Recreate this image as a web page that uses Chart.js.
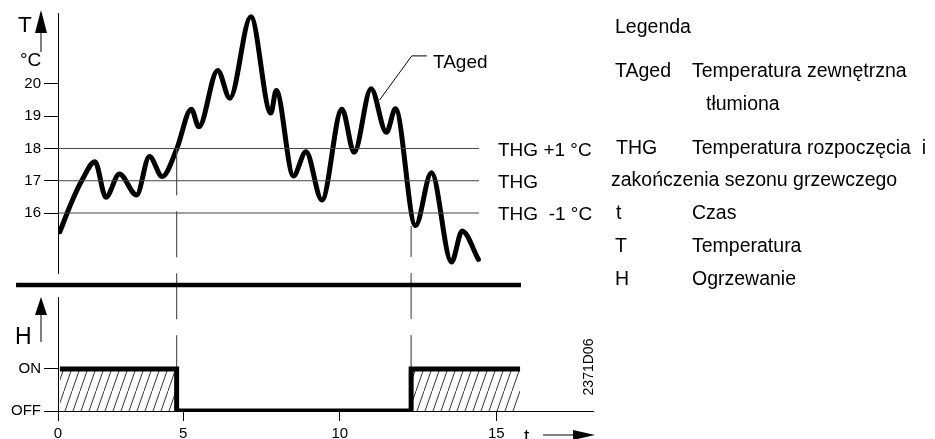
<!DOCTYPE html>
<html>
<head>
<meta charset="utf-8">
<script src="https://cdn.jsdelivr.net/npm/chart.js@4.4.1/dist/chart.umd.min.js"></script>
<style>
  html, body { margin: 0; padding: 0; background: #fff; }
  #wrap { position: relative; width: 935px; height: 439px; overflow: hidden; background: #fff;
          font-family: "Liberation Sans", Arial, sans-serif; color: #000; }
  #wrap canvas { position: absolute; left: 0; top: 0; }
  .lbl { position: absolute; line-height: 1; white-space: pre; transform: translateY(-50%); }
</style>
</head>
<body>
<div id="wrap">
  <canvas id="chart-temp" width="935" height="439"></canvas>
  <canvas id="chart-heat" width="935" height="439"></canvas>
</div>
<script>
// --- data (t on the drawing's time scale) ---
const T_TIME = [1.06, 1.44, 1.77, 2.18, 2.53, 2.96, 3.51, 3.92, 4.33, 4.79, 5.26, 5.50, 6.10, 6.49, 7.16,
                7.80, 7.97, 8.52, 8.92, 9.43, 10.07, 10.46, 11.00, 11.49, 11.78, 12.42, 12.93, 13.57, 13.91, 14.43];
const T_AGED = [15.42, 16.35, 17.02, 17.59, 16.49, 17.21, 16.56, 17.75, 17.13, 17.98, 19.22, 18.67, 20.42, 19.56, 22.08,
                19.10, 19.80, 17.15, 17.90, 16.40, 19.22, 17.88, 19.85, 18.50, 19.23, 15.61, 17.25, 14.48, 15.44, 14.56];

const THG_LEVELS = [18, 17, 16];
const THG_END = 14.45;

const SWITCH_T = [4.79, 12.28];
const SWITCH_TOP = [17.98, 15.6];
const SWITCH_BOTTOM = 11.16;

const H_TIME = [1.06, 4.79, 12.28, 15.76];
const H_STATE = [1, 0, 1, 1];

const LEADER_T = [11.27, 12.30, 12.78];
const LEADER_Y = [19.5, 20.87, 20.87];

const SEP_T = [-0.34, 15.79];
const SEP_Y = 13.77;

const Y_TICKS = [16, 17, 18, 19, 20];
const X_TICKS = [1, 5, 10, 15];
const X_TICK_LABELS = ['0', '5', '10', '15'];
const H_TICKS = [0, 1];
const H_TICK_LABELS = ['OFF', 'ON'];

const X_MIN = 1, X_MAX = 18.09;
const T_MIN = 14.14, T_MAX = 22.2;
const H_MAX = 2.71;

const FONT = '"Liberation Sans", Arial, sans-serif';
Chart.defaults.font.family = FONT;
Chart.defaults.color = '#000';

function pts(xs, ys) { return xs.map((x, i) => ({ x, y: ys[i] })); }

function hatchPattern() {
  const c = document.createElement('canvas');
  c.width = 8; c.height = 23;
  const g = c.getContext('2d');
  g.strokeStyle = '#333';
  g.lineWidth = 1;
  g.beginPath();
  g.moveTo(-1, 23 + 2.875);
  g.lineTo(9, -2.875);
  g.stroke();
  return g.createPattern(c, 'repeat');
}

function arrowUp(ctx, x, tip, base, tail) {
  ctx.beginPath();
  ctx.moveTo(x, tail); ctx.lineTo(x, base); ctx.stroke();
  ctx.beginPath();
  ctx.moveTo(x, tip); ctx.lineTo(x - 6, base); ctx.lineTo(x + 6, base); ctx.closePath(); ctx.fill();
}

const arrows = {
  id: 'arrows',
  afterDraw(chart) {
    const { ctx, chartArea: a } = chart;
    ctx.save();
    ctx.strokeStyle = '#000'; ctx.fillStyle = '#000'; ctx.lineWidth = 1;
    if (chart.canvas.id === 'chart-temp') {
      arrowUp(ctx, a.left - 17, a.top - 3, a.top + 20, a.top + 39);
    } else {
      arrowUp(ctx, a.left - 17, a.top, a.top + 18, a.top + 45);
      const y = a.bottom + 24;
      ctx.beginPath(); ctx.moveTo(a.right - 50, y); ctx.lineTo(a.right - 18, y); ctx.stroke();
      ctx.beginPath();
      ctx.moveTo(a.right + 2, y); ctx.lineTo(a.right - 20, y - 5); ctx.lineTo(a.right - 20, y + 5);
      ctx.closePath(); ctx.fill();
    }
    ctx.restore();
  }
};

const line = (data, extra) => Object.assign({
  data, borderColor: '#000', borderWidth: 1, pointRadius: 0, tension: 0, fill: false
}, extra);

const yAxisBase = (min, max, ticks, labels) => ({
  min, max,
  afterFit: s => { s.width = 58; },
  afterBuildTicks: s => { s.ticks = ticks.map(v => ({ value: v })); },
  ticks: { font: { size: 15 }, color: '#000', padding: 3,
           callback: (v, i) => labels ? labels[i] : String(v) },
  grid: { drawOnChartArea: false, drawTicks: true, tickLength: 14, color: '#000', lineWidth: 1 },
  border: { display: true, color: '#000', width: 1 }
});

const baseOpts = {
  responsive: false, animation: false, events: [],
  plugins: { legend: { display: false }, tooltip: { enabled: false } }
};

function initTempChart() {
  const datasets = [
    line(pts(T_TIME, T_AGED), { borderWidth: 5, cubicInterpolationMode: 'monotone', borderCapStyle: 'round' }),
    line(pts(SEP_T, [SEP_Y, SEP_Y]), { borderWidth: 4.5, clip: false }),
    line(pts(LEADER_T, LEADER_Y), { borderWidth: 1 })
  ];
  THG_LEVELS.forEach(v => datasets.push(line(pts([X_MIN, THG_END], [v, v]), { borderColor: '#444' })));
  SWITCH_T.forEach((t, i) => datasets.push(line(pts([t, t], [SWITCH_TOP[i], SWITCH_BOTTOM]), {
    borderColor: '#555', borderWidth: 1.2, borderDash: [46, 16], borderDashOffset: i ? 15 : 0, clip: false
  })));
  // curve on top
  datasets.push(datasets.shift());

  new Chart(document.getElementById('chart-temp'), {
    type: 'line',
    data: { datasets },
    options: Object.assign({}, baseOpts, {
      layout: { padding: { left: 0, top: 13, right: 342, bottom: 166 } },
      scales: {
        x: { type: 'linear', min: X_MIN, max: X_MAX, display: false },
        y: yAxisBase(T_MIN, T_MAX, Y_TICKS, null)
      }
    }),
    plugins: [arrows]
  });
}

function initHeatChart() {
  new Chart(document.getElementById('chart-heat'), {
    type: 'line',
    data: {
      datasets: [line(pts(H_TIME, H_STATE), {
        borderWidth: 5, stepped: 'before', fill: 'origin', backgroundColor: hatchPattern(),
        borderJoinStyle: 'miter', borderCapStyle: 'butt'
      })]
    },
    options: Object.assign({}, baseOpts, {
      layout: { padding: { left: 0, top: 297, right: 342, bottom: 0 } },
      scales: {
        x: {
          type: 'linear', min: X_MIN, max: X_MAX,
          afterFit: s => { s.height = 28; },
          afterBuildTicks: s => { s.ticks = X_TICKS.map(v => ({ value: v })); },
          ticks: { font: { size: 15 }, color: '#000', padding: 4, maxRotation: 0, autoSkip: false,
                   callback: (v, i) => X_TICK_LABELS[i] },
          grid: { drawOnChartArea: false, drawTicks: true, tickLength: 10, color: '#000', lineWidth: 1 },
          border: { display: true, color: '#000', width: 1 }
        },
        y: yAxisBase(0, H_MAX, H_TICKS, H_TICK_LABELS)
      }
    }),
    plugins: [arrows]
  });
}

// text labels around the plots
const LABELS = [
  ['T', 18, 25, 22.5], ['°C', 20, 59, 19], ['H', 15, 336, 23], ['t', 524, 435, 19],
  ['TAged', 433, 61, 19],
  ['THG +1 °C', 498, 149, 19], ['THG', 498, 181, 19], ['THG  -1 °C', 498, 213, 19],
  ['Legenda', 615, 27, 19.5],
  ['TAged', 615, 71, 19.5], ['Temperatura zewnętrzna', 692, 71, 19.5], ['tłumiona', 706, 104, 19.5],
  ['THG', 616, 148, 19.5], ['Temperatura rozpoczęcia  i', 692, 148, 19.5],
  ['zakończenia sezonu grzewczego', 611, 180, 19.5],
  ['t', 616, 213, 19.5], ['Czas', 692, 213, 19.5],
  ['T', 615, 246, 19.5], ['Temperatura', 692, 246, 19.5],
  ['H', 615, 279, 19.5], ['Ogrzewanie', 692, 279, 19.5]
];

function placeLabels() {
  const wrap = document.getElementById('wrap');
  LABELS.forEach(([text, x, y, size]) => {
    const el = document.createElement('div');
    el.className = 'lbl';
    el.textContent = text;
    el.style.left = x + 'px';
    el.style.top = y + 'px';
    el.style.fontSize = size + 'px';
    wrap.appendChild(el);
  });
  const code = document.createElement('div');
  code.className = 'lbl';
  code.textContent = '2371D06';
  code.style.cssText = 'left:588px;top:367px;font-size:14px;transform:translate(-50%,-50%) rotate(-90deg);';
  wrap.appendChild(code);
}

initTempChart();
initHeatChart();
placeLabels();
</script>
</body>
</html>
